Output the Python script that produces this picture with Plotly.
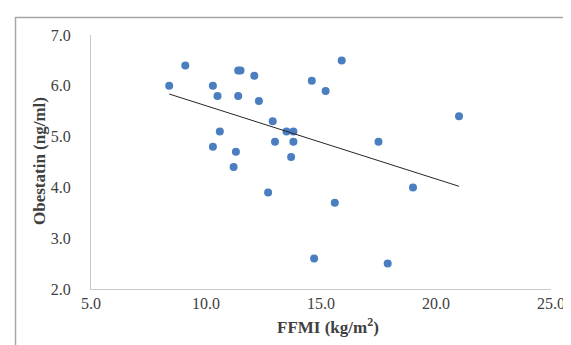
import numpy as np
import plotly.graph_objects as go

# Data
ffmi = [8.4, 9.1, 10.3, 10.5, 10.6, 10.3, 11.3, 11.2, 11.4, 11.5, 11.4, 12.1, 12.3,
        12.9, 13.0, 12.7, 13.5, 13.8, 13.8, 13.7, 14.6, 14.7, 15.2, 15.9, 15.6,
        17.5, 17.9, 19.0, 21.0]
obestatin = [6.0, 6.4, 6.0, 5.8, 5.1, 4.8, 4.7, 4.4, 6.3, 6.3, 5.8, 6.2, 5.7,
             5.3, 4.9, 3.9, 5.1, 5.1, 4.9, 4.6, 6.1, 2.6, 5.9, 6.5, 3.7,
             4.9, 2.5, 4.0, 5.4]
x_ticks = [5.0, 10.0, 15.0, 20.0, 25.0]
y_ticks = [2.0, 3.0, 4.0, 5.0, 6.0, 7.0]

# linear trendline (least squares) over data range
slope, intercept = np.polyfit(ffmi, obestatin, 1)
tx = [min(ffmi), max(ffmi)]
ty = [slope * v + intercept for v in tx]

W, H = 571, 345
L, R, T, B = 83, 571 - 543, 27, 345 - 281
pw, ph = W - L - R, H - T - B

def px(xp):
    return (xp - L) / pw

def py(yp):
    return 1 - (yp - T) / ph

fig = go.Figure()
fig.add_trace(go.Scatter(x=ffmi, y=obestatin, mode="markers",
                         marker=dict(size=8, color="#4a7ec0"),
                         showlegend=False, hoverinfo="x+y"))
fig.add_trace(go.Scatter(x=tx, y=ty, mode="lines",
                         line=dict(color="#262626", width=1),
                         showlegend=False, hoverinfo="skip"))

font_family = "Liberation Serif, Times New Roman, serif"
fig.update_layout(
    width=W, height=H,
    margin=dict(l=L, r=R, t=T, b=B),
    paper_bgcolor="white", plot_bgcolor="white",
    font=dict(family=font_family, size=16, color="#404040"),
    xaxis=dict(range=[5, 25], tickvals=x_ticks, ticktext=[f"{v:.1f}" for v in x_ticks],
               showgrid=False, zeroline=False, showline=True, linecolor="#c8c8c8", linewidth=1,
               ticks="", tickfont=dict(size=16, color="#404040"), fixedrange=True),
    yaxis=dict(range=[2, 7], tickvals=y_ticks, ticktext=[f"{v:.1f}" for v in y_ticks],
               showgrid=False, zeroline=False, showline=True, linecolor="#c8c8c8", linewidth=1,
               ticks="outside", ticklen=16, tickcolor="rgba(0,0,0,0)",
               tickfont=dict(size=16, color="#404040"), fixedrange=True),
    shapes=[dict(type="rect", xref="paper", yref="paper",
                 x0=px(7.5), x1=px(580), y0=py(9.5), y1=py(360),
                 line=dict(color="#a6a6a6", width=1.5), fillcolor="rgba(0,0,0,0)", layer="below")],
    annotations=[
        dict(text="<b>FFMI (kg/m<sup>2</sup>)</b>", xref="paper", yref="paper",
             x=px(320), y=py(318), showarrow=False, xanchor="center", yanchor="middle",
             font=dict(family=font_family, size=17, color="#404040")),
        dict(text="<b>Obestatin (ng/ml)</b>", xref="paper", yref="paper",
             x=px(31), y=py(153), showarrow=False, xanchor="center", yanchor="middle",
             textangle=-90, font=dict(family=font_family, size=17, color="#404040")),
    ],
)

fig.write_html("out.html")
